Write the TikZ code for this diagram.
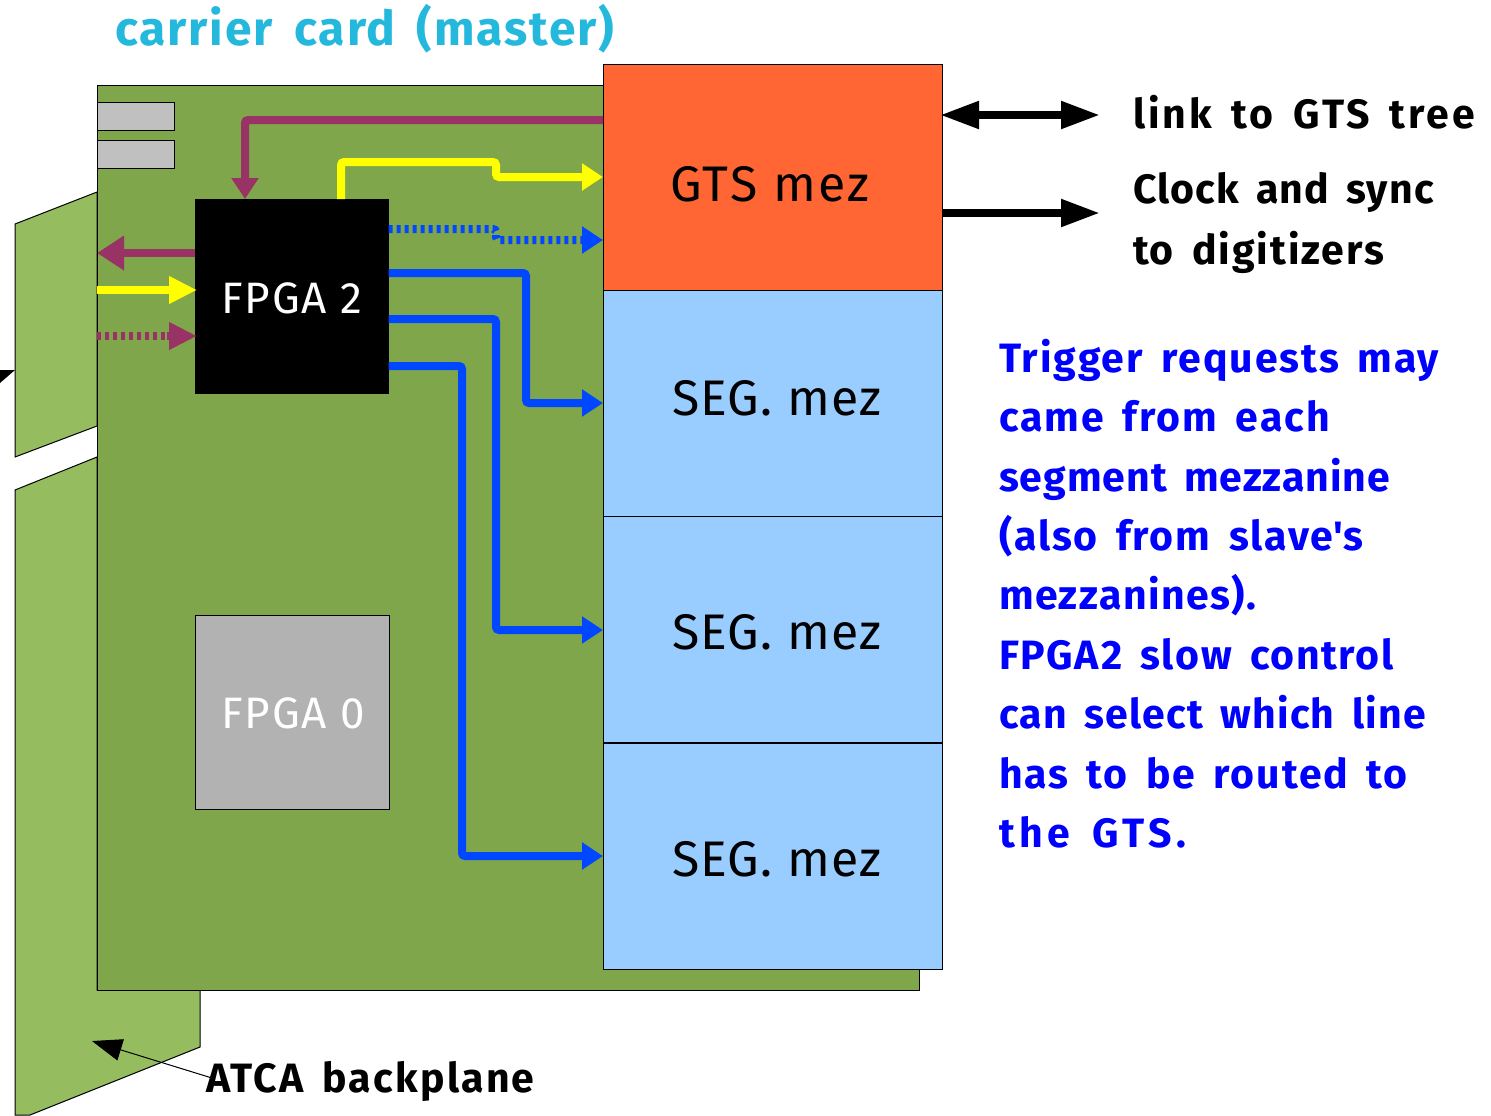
\documentclass[tikz,border=0pt]{standalone}
\usepackage{fontspec}
\setmainfont{Fira Sans}[LetterSpace=4,WordSpace=1.6]
\newfontfamily\bigf{Fira Sans}[LetterSpace=3,WordSpace=1]
\newfontfamily\aposf{Fira Sans}[LetterSpace=4]
\newcommand{\ls}[2]{{\addfontfeature{LetterSpace=#1}#2}}
\usetikzlibrary{arrows.meta,calc}
\definecolor{board}{HTML}{7FA64A}
\definecolor{plane}{HTML}{95BD60}
\definecolor{gtsc}{HTML}{FF6633}
\definecolor{segc}{HTML}{99CCFF}
\definecolor{purp}{HTML}{993366}
\definecolor{bluec}{HTML}{0047FF}
\definecolor{textb}{HTML}{0000FF}
\definecolor{yel}{HTML}{FFFF00}
\definecolor{titlec}{HTML}{23B8DC}
\definecolor{chipg}{HTML}{B2B2B2}
\definecolor{slotg}{HTML}{C0C0C0}
\tikzset{
  x=0.5pt,y=-0.5pt,
  outl/.style={draw=black,line width=0.5pt},
  rct/.style={outl,rectangle,inner sep=0pt,outer sep=0pt,anchor=north west},
  mez/.style={rct,minimum width=169.5pt,minimum height=113pt},
  chip/.style={rct,minimum width=96.8pt,minimum height=97pt},
  slot/.style={rct,fill=slotg,minimum width=38.8pt,minimum height=14pt},
  lab/.style={inner sep=0pt,outer sep=0pt,anchor=base west},
  big/.style={font=\bigf\fontsize{25}{30}\selectfont},
  chipl/.style={font=\bigf\fontsize{22}{26}\selectfont,text=white},
  bold/.style={font=\fontsize{20.5}{29.7}\selectfont\bfseries},
  wire/.style={line width=4pt,rounded corners=1.5pt},
  dots/.style={dash pattern=on 2pt off 2pt},
  head/.style={-{Triangle[length=10.5pt,width=13pt]}},
  headb/.style={-{Triangle[length=14pt,width=13pt]},shorten >=-1pt},
  headl/.style={-{Triangle[length=13.5pt,width=16.5pt]}},
  ext/.style={line width=4pt,{Triangle[length=19.5pt,width=13pt]}-{Triangle[length=19.5pt,width=13pt]},shorten >=-1pt,shorten <=-1pt},
  exto/.style={line width=4pt,-{Triangle[length=19.5pt,width=13pt]},shorten >=-1pt},
}
\begin{document}
\begin{tikzpicture}
\useasboundingbox (0,0) rectangle (1491,1115);
\clip (0,0) rectangle (1491,1115);
% backplanes
\draw[outl,fill=plane] (15,224) -- (97,192) -- (97,426) -- (15,457) -- cycle;
\draw[outl,fill=plane] (15,490) -- (97,457) -- (97,990) -- (200,990) -- (200,1047) -- (30,1115) -- (15,1115) -- cycle;
\fill[black] (15,370) -- (0,370) -- (0,383) -- cycle;
% board
\node[rct,fill=board,minimum width=411pt,minimum height=452.5pt] (board) at (97,85) {};
\node[slot] (slotA) at (97,102) {};
\node[slot] (slotB) at (97,140) {};
% mezzanines
\node[mez,fill=gtsc] (gts) at (603,64) {};
\node[mez,fill=segc] (segA) at (603,290) {};
\node[mez,fill=segc] (segB) at (603,516) {};
\node[mez,fill=segc] (segC) at (603,743) {};
% chips
\node[chip,fill=black,draw=black] (fpgaT) at (195,199) {};
\node[chip,fill=chipg,draw=black] (fpgaO) at (195.5,615) {};
% end points on the boxes
\coordinate (pIn) at (gts.west |- 0,120);
\coordinate (pEnd) at (245,0 |- fpgaT.north);
\coordinate (ySt) at (341,0 |- fpgaT.north);
\coordinate (yEnd) at (gts.west |- 0,177);
\coordinate (dSt) at (fpgaT.east |- 0,229);
\coordinate (dEnd) at (gts.west |- 0,240);
\coordinate (bA) at (fpgaT.east |- 0,273);
\coordinate (bB) at (fpgaT.east |- 0,319);
\coordinate (bC) at (fpgaT.east |- 0,366);
\coordinate (eA) at (segA.west |- 0,403);
\coordinate (eB) at (segB.west |- 0,630);
\coordinate (eC) at (segC.west |- 0,856);
\coordinate (lA) at (board.west |- 0,253);
\coordinate (lB) at (board.west |- 0,290);
\coordinate (lC) at (board.west |- 0,336);
\coordinate (fA) at (fpgaT.west |- 0,253);
\coordinate (fB) at (fpgaT.west |- 0,290);
\coordinate (fC) at (fpgaT.west |- 0,336);
\coordinate (xA) at (1098,115);
\coordinate (xB) at (1098,213);
\coordinate (gA) at (gts.east |- 0,115);
\coordinate (gB) at (gts.east |- 0,213);
\coordinate (atcaTip) at (92,1041);
% wires
\draw[wire,purp,head] (pIn) -- (245,120) -- (pEnd);
\draw[wire,yel,head] (ySt) -- (341,162) -- (496,162) -- (496,177) -- (yEnd);
\draw[wire,bluec,dots] (dSt) -- (496,229) -- (496,240) -- (582,240);
\draw[wire,bluec,head] (582,240) -- (dEnd);
\draw[wire,bluec,head] (bA) -- (526,273) -- (526,403) -- (eA);
\draw[wire,bluec,head] (bB) -- (496,319) -- (496,630) -- (eB);
\draw[wire,bluec,head] (bC) -- (462,366) -- (462,856) -- (eC);
\draw[wire,purp,headl] (fA) -- (lA);
\draw[wire,yel,headb] (lB) -- (fB);
\draw[wire,purp,dots] (lC) -- (167,336);
\draw[wire,purp,headb] (167,336) -- (fC);
\draw[ext] (gA) -- (xA);
\draw[exto] (gB) -- (xB);
% labels
\node[lab,big] (gtsL) at (670,201) {\ls{4.7}{GTS mez}};
\node[lab,big] (segAL) at (672,415) {\ls{2.5}{SEG. mez}};
\node[lab,big] (segBL) at (672,649) {\ls{2.5}{SEG. mez}};
\node[lab,big] (segCL) at (672,876) {\ls{2.5}{SEG. mez}};
\node[lab,chipl] (ftL) at (221,313) {\ls{4.5}{FPGA 2}};
\node[lab,chipl] (foL) at (221,728) {\ls{4.5}{FPGA 0}};
\node[lab,text=titlec,font=\fontsize{24}{28}\selectfont\bfseries] (title) at (115,45) {carrier card (master)};
\node[lab,bold] (linkL) at (1133,128) {\ls{7}{link to GTS tree}};
\node[lab,bold] (clkA) at (1133,203) {\ls{2.8}{Clock and sync}};
\node[lab,bold] (clkB) at (1133,264) {\ls{4.6}{to digitizers}};
\node[lab,bold,anchor=north west,align=left,text=textb] (note) at (999,339) {\ls{4.7}{Trigger requests may}\\\ls{4.9}{came from each}\\\ls{2.5}{segment mezzanine}\\\ls{4.6}{(also from slave{\aposf'}s}\\\ls{3.7}{mezzanines).}\\FPGA2 slow control\\\ls{3}{can select which line}\\\ls{4.6}{has to be routed to}\\\ls{11}{the GTS.}};
\node[lab,bold] (atca) at (206,1092) {\ls{5.5}{ATCA backplane}};
\draw[line width=0.5pt,-{Triangle[length=15pt,width=11pt]}] (atca.west) ++(6,-3) -- (atcaTip);
\end{tikzpicture}
\end{document}
